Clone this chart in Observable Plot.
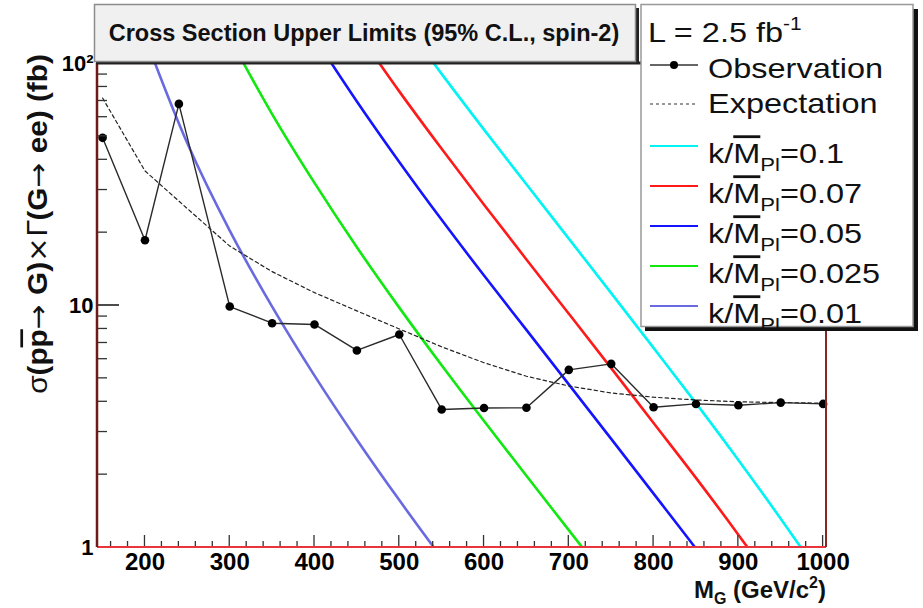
<!DOCTYPE html>
<html><head><meta charset="utf-8">
<script src="https://cdn.jsdelivr.net/npm/d3@7"></script>
<script src="https://cdn.jsdelivr.net/npm/@observablehq/plot@0.6"></script>
<style>
body{margin:0;background:#fff;}
#chart{position:relative;width:923px;height:608px;overflow:hidden;}
</style>
</head><body><div id="chart"></div>
<script>
// ---- data ----
const masses   = [150,200,240,300,350,400,450,500,550,600,650,700,750,800,850,900,950,1000];
const observed = [49.3,18.6,68.1,9.9,8.45,8.35,6.52,7.59,3.72,3.77,3.78,5.42,5.74,3.8,3.92,3.87,3.97,3.92];
const expected = [72,36,27,17.6,13.8,11.3,9.5,8.0,6.75,5.8,5.1,4.65,4.35,4.18,4.07,4.0,3.97,3.95];

const theoryMass = [200,250,300,350,400,450,500,550,600,650,700,750,800,850,900,950,1000];
const k0p1   = [null,null,null,null,null,null,156.7,90.6,53.3,31.7,18.9,11.25,6.68,3.95,2.30,1.315,0.74];
const k0p07  = [null,null,null,null,null,136.5,76.7,44.4,26.1,15.5,9.25,5.51,3.27,1.94,1.13,0.644,null];
const k0p05  = [null,null,null,null,128.2,69.7,39.2,22.6,13.3,7.93,4.72,2.81,1.67,0.99,0.575,null,null];
const k0p025 = [null,null,127.6,61.8,32.1,17.4,9.8,5.66,3.33,1.98,1.18,0.703,null,null,null,null,null];
const k0p01  = [128.8,46.8,20.4,9.89,5.13,2.79,1.57,0.906,0.533,null,null,null,null,null,null,null,null];

const seriesLabels = ["0.1","0.07","0.05","0.025","0.01"];
const seriesValues = [k0p1,k0p07,k0p05,k0p025,k0p01];
const seriesColors = ["#00f4f4","#ff1a1a","#1414ff","#10e810","#6a6ae0"];

const xTickLabels = [200,300,400,500,600,700,800,900,1000];
const yTickLabels = [1,10,100];

// ---- tables ----
const obsRows = masses.map((m,i)=>({m, v: observed[i]}));
const expRows = masses.map((m,i)=>({m, v: expected[i]}));
const theoryRows = (arr) => theoryMass.map((m,i)=>({m, v: arr[i]}));

const FONT = "'Liberation Sans', Arial, Helvetica, sans-serif";
const SYM = "'DejaVu Sans', sans-serif";

const chart = Plot.plot({
  width: 923, height: 608,
  marginLeft: 97, marginRight: 97, marginTop: 63, marginBottom: 61,
  x: {type: "linear", domain: [144, 1004]},
  y: {type: "log", domain: [1, 100]},
  style: {background: "white", fontFamily: FONT, color: "black"},
  marks: [
    Plot.axisX({ticks: xTickLabels, tickSize: 0, tickPadding: 5, fontSize: 24, fontWeight: "bold",
                tickFormat: d => String(d), label: null}),
    Plot.axisY({ticks: yTickLabels, tickSize: 0, tickPadding: 4, fontSize: 22, fontWeight: "bold",
                tickFormat: d => d === 100 ? "10²" : String(d), label: null}),
    ...seriesValues.map((arr,i) => Plot.line(theoryRows(arr), {
      x: "m", y: "v", stroke: seriesColors[i], strokeWidth: 2.6, curve: "catmull-rom", clip: true})),
    Plot.line(expRows, {x: "m", y: "v", stroke: "#222", strokeWidth: 1.2, strokeDasharray: "3.5,3", clip: true}),
    Plot.line(obsRows, {x: "m", y: "v", stroke: "#2a2a2a", strokeWidth: 1.4, clip: true}),
    Plot.dot(obsRows, {x: "m", y: "v", r: 4.3, fill: "black", stroke: "none"})
  ]
});
document.getElementById("chart").appendChild(chart);

// ---- frame, ticks, boxes via the plot's own scales ----
const svg = d3.select(chart);
const xs = chart.scale("x"), ys = chart.scale("y");
const X = v => xs.apply(v), Y = v => ys.apply(v);
const L = X(xs.domain[0]), R = X(xs.domain[1]), T = Y(100), B = Y(1);

const g = svg.append("g");
// x ticks (inward)
d3.range(160, 1001, 20).forEach(v => {
  const major = v % 100 === 0;
  g.append("line").attr("x1", X(v)).attr("x2", X(v)).attr("y1", B).attr("y2", B - (major ? 12 : 6))
    .attr("stroke", "#333").attr("stroke-width", 1.3);
});
// y ticks (inward)
[1,10].forEach(dec => {
  for (let j = 1; j <= 10; j++) {
    const v = j * dec; if (v > 100) continue;
    const major = (j === 1 || j === 10);
    g.append("line").attr("x1", L).attr("x2", L + (major ? 22 : 10)).attr("y1", Y(v)).attr("y2", Y(v))
      .attr("stroke", "#333").attr("stroke-width", 1.3);
  }
});
// frame
g.append("line").attr("x1", L).attr("x2", R).attr("y1", B).attr("y2", B).attr("stroke", "#e8343a").attr("stroke-width", 2);
g.append("line").attr("x1", L).attr("x2", L).attr("y1", T).attr("y2", B).attr("stroke", "#6e1a1a").attr("stroke-width", 2.5);
g.append("line").attr("x1", R).attr("x2", R).attr("y1", T).attr("y2", B).attr("stroke", "#8b2424").attr("stroke-width", 2);
g.append("line").attr("x1", L - 1).attr("x2", R + 1).attr("y1", T).attr("y2", T).attr("stroke", "#2a2222").attr("stroke-width", 3);

// title box
svg.append("rect").attr("x", 98).attr("y", 8).attr("width", 541).attr("height", 56).attr("fill", "#222");
svg.append("rect").attr("x", 94.5).attr("y", 4.5).attr("width", 541).attr("height", 57)
  .attr("fill", "#f0f0f0").attr("stroke", "#8c8c8c").attr("stroke-width", 1.5);
svg.append("text").attr("x", 364).attr("y", 41).attr("text-anchor", "middle")
  .attr("font-family", FONT).attr("font-size", 23.5).attr("font-weight", "bold").attr("fill", "#111")
  .text("Cross Section Upper Limits (95% C.L., spin-2)");

// legend box
svg.append("rect").attr("x", 645).attr("y", 9).attr("width", 273).attr("height", 322).attr("fill", "#111");
svg.append("rect").attr("x", 641).attr("y", 4.5).attr("width", 272).attr("height", 322)
  .attr("fill", "white").attr("stroke", "#999").attr("stroke-width", 1.5);

const lg = svg.append("g").attr("font-family", FONT).attr("fill", "#111").attr("text-anchor", "start");
function ltext(x, y) {
  return lg.append("g").attr("transform", `translate(${x},${y}) scale(1.16,1)`)
    .append("text").attr("text-anchor", "start").attr("font-size", 28);
}
// L = 2.5 fb-1
{
  const t = ltext(648, 42);
  t.append("tspan").text("L = 2.5 fb");
  t.append("tspan").attr("font-size", 18).attr("dy", -12).text("-1");
}
// Observation
lg.append("line").attr("x1", 650).attr("x2", 698).attr("y1", 65).attr("y2", 65).attr("stroke", "#333").attr("stroke-width", 1.5);
lg.append("circle").attr("cx", 674).attr("cy", 65).attr("r", 4).attr("fill", "black");
ltext(708, 78).text("Observation");
// Expectation
lg.append("line").attr("x1", 650).attr("x2", 698).attr("y1", 104).attr("y2", 104).attr("stroke", "#333")
  .attr("stroke-width", 1.2).attr("stroke-dasharray", "3,3");
ltext(708, 113).text("Expectation");
// theory entries
const rowSw = [146, 186, 226, 266, 306];
seriesLabels.forEach((lab, i) => {
  lg.append("line").attr("x1", 650).attr("x2", 698).attr("y1", rowSw[i]).attr("y2", rowSw[i])
    .attr("stroke", seriesColors[i]).attr("stroke-width", 2);
  const t = ltext(708, rowSw[i] + 17);
  t.append("tspan").text("k/");
  t.append("tspan").attr("text-decoration", "overline").text("M");
  t.append("tspan").attr("font-size", 19).attr("dy", 8).text("Pl");
  t.append("tspan").attr("dy", -8).text("=" + lab);
});

// y axis title
{
  const t = svg.append("g").attr("transform", "translate(47,224) rotate(-90) scale(1.1,1)")
    .append("text").attr("text-anchor", "middle").attr("font-family", FONT)
    .attr("font-size", 27).attr("font-weight", "bold").attr("fill", "#111");
  t.append("tspan").attr("font-weight", "normal").text("σ");
  t.append("tspan").text("(p");
  t.append("tspan").attr("text-decoration", "overline").text("p");
  t.append("tspan").attr("font-family", SYM).attr("font-weight", "normal").text("→ ");
  t.append("tspan").text("G)");
  t.append("tspan").attr("font-family", SYM).attr("font-weight", "normal").text("×Γ");
  t.append("tspan").text("(G");
  t.append("tspan").attr("font-family", SYM).attr("font-weight", "normal").text("→ ");
  t.append("tspan").text("ee) (fb)");
}
// x axis title
{
  const t = svg.append("text").attr("x", R).attr("y", 598).attr("text-anchor", "end")
    .attr("font-family", FONT).attr("font-size", 24).attr("font-weight", "bold").attr("fill", "#111");
  t.append("tspan").text("M");
  t.append("tspan").attr("font-size", 16).attr("dy", 6).text("G");
  t.append("tspan").attr("dy", -6).text(" (GeV/c");
  t.append("tspan").attr("font-size", 16).attr("dy", -10).text("2");
  t.append("tspan").attr("dy", 10).text(")");
}
</script>
</body></html>
